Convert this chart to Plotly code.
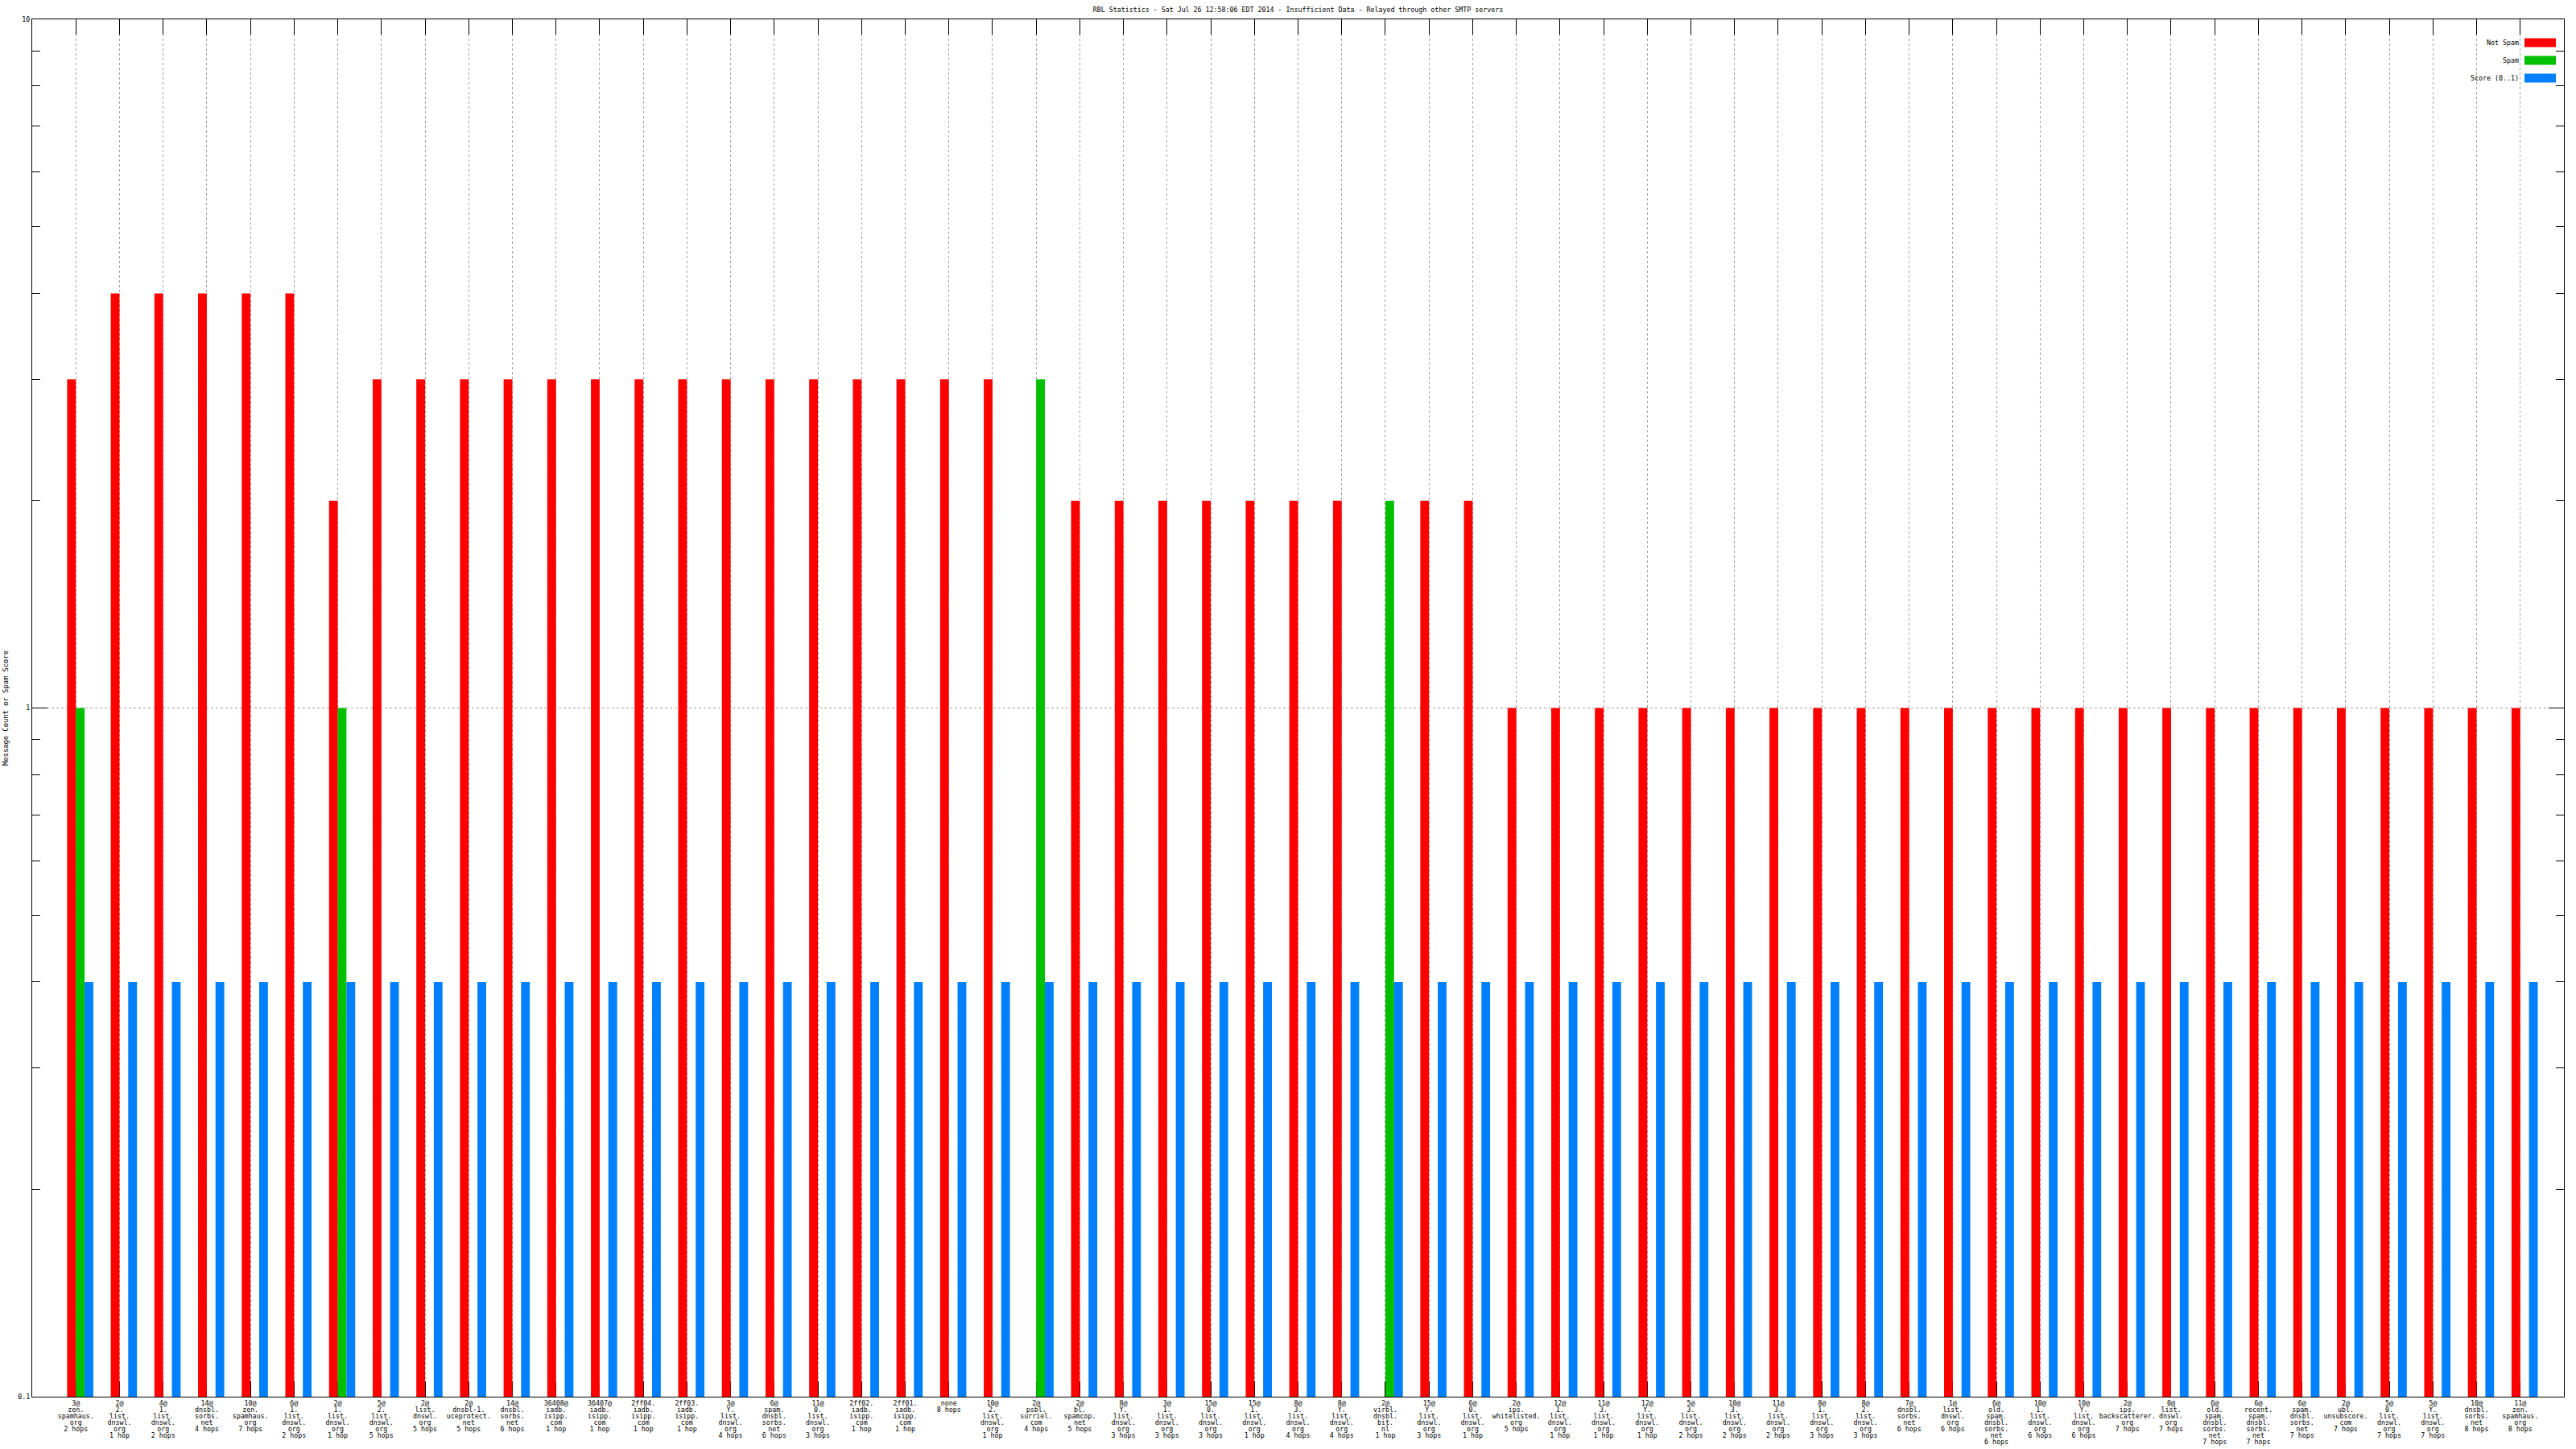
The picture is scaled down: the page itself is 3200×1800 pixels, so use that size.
import plotly.graph_objects as go

# ---------------- data ----------------
categories = [
    "3@<br>zen.<br>spamhaus.<br>org<br>2 hops",
    "2@<br>2.<br>list.<br>dnswl.<br>org<br>1 hop",
    "4@<br>1.<br>list.<br>dnswl.<br>org<br>2 hops",
    "14@<br>dnsbl.<br>sorbs.<br>net<br>4 hops",
    "10@<br>zen.<br>spamhaus.<br>org<br>7 hops",
    "6@<br>1.<br>list.<br>dnswl.<br>org<br>2 hops",
    "2@<br>1.<br>list.<br>dnswl.<br>org<br>1 hop",
    "5@<br>2.<br>list.<br>dnswl.<br>org<br>5 hops",
    "2@<br>list.<br>dnswl.<br>org<br>5 hops",
    "2@<br>dnsbl-1.<br>uceprotect.<br>net<br>5 hops",
    "14@<br>dnsbl.<br>sorbs.<br>net<br>6 hops",
    "36408@<br>iadb.<br>isipp.<br>com<br>1 hop",
    "36407@<br>iadb.<br>isipp.<br>com<br>1 hop",
    "2ff04.<br>iadb.<br>isipp.<br>com<br>1 hop",
    "2ff03.<br>iadb.<br>isipp.<br>com<br>1 hop",
    "3@<br>Y.<br>list.<br>dnswl.<br>org<br>4 hops",
    "6@<br>spam.<br>dnsbl.<br>sorbs.<br>net<br>6 hops",
    "11@<br>0.<br>list.<br>dnswl.<br>org<br>3 hops",
    "2ff02.<br>iadb.<br>isipp.<br>com<br>1 hop",
    "2ff01.<br>iadb.<br>isipp.<br>com<br>1 hop",
    "none<br>8 hops",
    "10@<br>2.<br>list.<br>dnswl.<br>org<br>1 hop",
    "2@<br>psbl.<br>surriel.<br>com<br>4 hops",
    "2@<br>bl.<br>spamcop.<br>net<br>5 hops",
    "8@<br>Y.<br>list.<br>dnswl.<br>org<br>3 hops",
    "3@<br>1.<br>list.<br>dnswl.<br>org<br>3 hops",
    "15@<br>0.<br>list.<br>dnswl.<br>org<br>3 hops",
    "15@<br>1.<br>list.<br>dnswl.<br>org<br>1 hop",
    "8@<br>3.<br>list.<br>dnswl.<br>org<br>4 hops",
    "8@<br>Y.<br>list.<br>dnswl.<br>org<br>4 hops",
    "2@<br>virbl.<br>dnsbl.<br>bit.<br>nl<br>1 hop",
    "15@<br>Y.<br>list.<br>dnswl.<br>org<br>3 hops",
    "6@<br>0.<br>list.<br>dnswl.<br>org<br>1 hop",
    "2@<br>ips.<br>whitelisted.<br>org<br>5 hops",
    "12@<br>1.<br>list.<br>dnswl.<br>org<br>1 hop",
    "11@<br>3.<br>list.<br>dnswl.<br>org<br>1 hop",
    "12@<br>Y.<br>list.<br>dnswl.<br>org<br>1 hop",
    "5@<br>3.<br>list.<br>dnswl.<br>org<br>2 hops",
    "10@<br>3.<br>list.<br>dnswl.<br>org<br>2 hops",
    "11@<br>3.<br>list.<br>dnswl.<br>org<br>2 hops",
    "8@<br>1.<br>list.<br>dnswl.<br>org<br>3 hops",
    "8@<br>2.<br>list.<br>dnswl.<br>org<br>3 hops",
    "7@<br>dnsbl.<br>sorbs.<br>net<br>6 hops",
    "1@<br>list.<br>dnswl.<br>org<br>6 hops",
    "6@<br>old.<br>spam.<br>dnsbl.<br>sorbs.<br>net<br>6 hops",
    "10@<br>1.<br>list.<br>dnswl.<br>org<br>6 hops",
    "10@<br>Y.<br>list.<br>dnswl.<br>org<br>6 hops",
    "2@<br>ips.<br>backscatterer.<br>org<br>7 hops",
    "0@<br>list.<br>dnswl.<br>org<br>7 hops",
    "6@<br>old.<br>spam.<br>dnsbl.<br>sorbs.<br>net<br>7 hops",
    "6@<br>recent.<br>spam.<br>dnsbl.<br>sorbs.<br>net<br>7 hops",
    "6@<br>spam.<br>dnsbl.<br>sorbs.<br>net<br>7 hops",
    "2@<br>ubl.<br>unsubscore.<br>com<br>7 hops",
    "5@<br>0.<br>list.<br>dnswl.<br>org<br>7 hops",
    "5@<br>Y.<br>list.<br>dnswl.<br>org<br>7 hops",
    "10@<br>dnsbl.<br>sorbs.<br>net<br>8 hops",
    "11@<br>zen.<br>spamhaus.<br>org<br>8 hops",
]

not_spam = [3, 4, 4, 4, 4, 4, 2, 3, 3, 3, 3, 3, 3, 3, 3, 3, 3, 3, 3, 3,
            3, 3, 0, 2, 2, 2, 2, 2, 2, 2, 0, 2, 2, 1, 1, 1, 1, 1, 1, 1,
            1, 1, 1, 1, 1, 1, 1, 1, 1, 1, 1, 1, 1, 1, 1, 1, 1]
spam = [1, 0, 0, 0, 0, 0, 1, 0, 0, 0, 0, 0, 0, 0, 0, 0, 0, 0, 0, 0,
        0, 0, 3, 0, 0, 0, 0, 0, 0, 0, 2, 0, 0, 0, 0, 0, 0, 0, 0, 0,
        0, 0, 0, 0, 0, 0, 0, 0, 0, 0, 0, 0, 0, 0, 0, 0, 0]
score = [0.4] * 57

series_names = ["Not Spam", "Spam", "Score (0..1)"]
series_colors = ["#ff0000", "#00c000", "#0080ff"]

title_text = "RBL Statistics - Sat Jul 26 12:58:06 EDT 2014 - Insufficient Data - Relayed through other SMTP servers"
y_title = "Message Count or Spam Score"
y_tickvals = [0.1, 1, 10]
y_ticktext = ["0.1", "1", "10"]
y_minor = [0.2, 0.3, 0.4, 0.5, 0.6, 0.7, 0.8, 0.9, 2, 3, 4, 5, 6, 7, 8, 9]

# ---------------- layout constants ----------------
W, H = 3200, 1800
L, R, T, B = 40, 15, 24, 65
PW, PH = W - L - R, H - T - B
FONT = "DejaVu Sans Mono"
FS = 8.3                          # main text size
TICK_LINE = 6.15                  # tick font size -> line spacing ~8px
BAR_W = 0.2                       # cluster: 3 bars + 2 gap units (gnuplot style)
BAR_OFFSETS = [-0.2, 0.0, 0.2]    # bar left edges relative to the tic


def px_x(px):
    return (px - L) / PW


def px_y(py):
    return (H - B - py) / PH


xs = list(range(len(categories)))
ticktext = ["<br>".join('<span style="font-size:%gpx">%s</span>' % (FS, ln) for ln in c.split("<br>"))
            for c in categories]

fig = go.Figure()
for name, vals, col, off in zip(series_names, [not_spam, spam, score], series_colors, BAR_OFFSETS):
    fig.add_trace(go.Bar(
        x=xs, y=[v if v > 0 else None for v in vals], name=name,
        width=BAR_W, offset=off,
        marker=dict(color=col, line=dict(width=0)),
        showlegend=False, hoverinfo="skip",
    ))

fig.update_layout(
    width=W, height=H,
    margin=dict(l=L, r=R, t=T, b=B, autoexpand=False),
    paper_bgcolor="white", plot_bgcolor="white",
    barmode="overlay", hovermode=False,
    font=dict(family=FONT, size=FS, color="black"),
    title=dict(text=title_text, x=px_x((L + W - R) / 2), xref="paper", xanchor="center",
               y=1 - 12 / H, yref="container", yanchor="middle",
               font=dict(family=FONT, size=FS, color="black")),
)

fig.update_xaxes(
    range=[-1, len(categories)], automargin=False,
    tickmode="array", tickvals=xs, ticktext=ticktext,
    tickangle=0, ticklabelstandoff=3,
    tickfont=dict(family=FONT, size=TICK_LINE, color="black"),
    ticks="inside", ticklen=19, tickcolor="black", tickwidth=1,
    showline=True, linecolor="black", linewidth=1, mirror="ticks",
    showgrid=True, gridcolor="#a0a0a0", gridwidth=1, griddash="dot",
    zeroline=False, layer="below traces",
)
fig.update_yaxes(
    type="log", range=[-1, 1], automargin=False,
    tickmode="array", tickvals=y_tickvals, ticktext=y_ticktext,
    tickfont=dict(family=FONT, size=FS, color="black"),
    ticks="inside", ticklen=19, tickcolor="black", tickwidth=1,
    minor=dict(tickmode="array", tickvals=y_minor, ticks="inside", ticklen=10,
               tickcolor="black", tickwidth=1, showgrid=False),
    showline=True, linecolor="black", linewidth=1, mirror="ticks",
    showgrid=True, gridcolor="#a0a0a0", gridwidth=1, griddash="dot",
    zeroline=False,
)

# y-axis title
fig.add_annotation(text=y_title, textangle=-90, x=px_x(6.5), y=0.5,
                   xref="paper", yref="paper", showarrow=False,
                   xanchor="center", yanchor="middle",
                   font=dict(family=FONT, size=8.8, color="black"))

# legend (gnuplot style: text right-aligned, swatch on the right)
legend_rows = [53, 75, 97]
for name, col, ry in zip(series_names, series_colors, legend_rows):
    fig.add_shape(type="rect", xref="paper", yref="paper",
                  x0=px_x(3136), x1=px_x(3175), y0=px_y(ry + 5.5), y1=px_y(ry - 5.5),
                  fillcolor=col, line=dict(width=0))
    fig.add_annotation(text=name, x=px_x(3131), y=px_y(ry), xref="paper", yref="paper",
                       showarrow=False, xanchor="right", yanchor="middle",
                       font=dict(family=FONT, size=FS, color="black"))

# remove the default 8px body margin so the figure sits at the page origin
fig.write_html("out.html", config={"displayModeBar": False, "staticPlot": True},
               post_script="document.body.style.margin='0';")
